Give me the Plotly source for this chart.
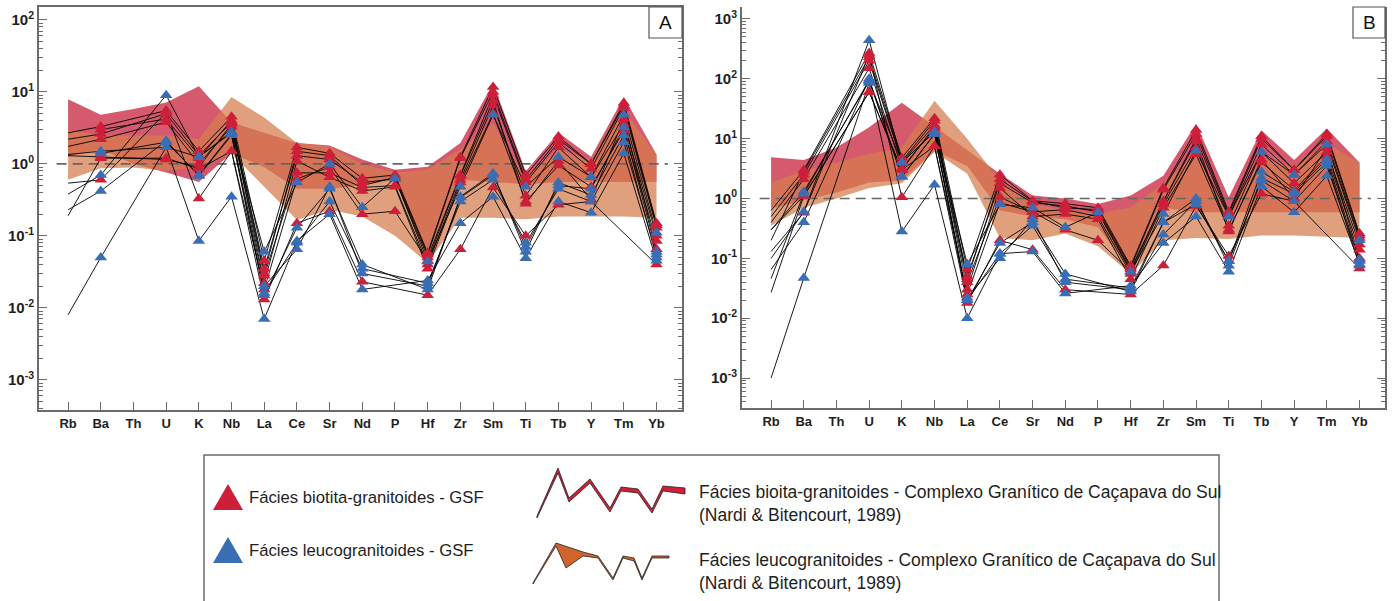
import plotly.graph_objects as go

# ---------------- data ----------------
elements = ["Rb", "Ba", "Th", "U", "K", "Nb", "La", "Ce", "Sr", "Nd", "P",
            "Hf", "Zr", "Sm", "Ti", "Tb", "Y", "Tm", "Yb"]

# Panel A - samples (GSF)
biot_A = {
    "R1": [2.7, 3.3, None, 5.5, 1.5, 4.5, 0.045, 1.7, 1.4, 0.63, 0.70, 0.058, 1.25, 11.7, 0.70, 2.4, 1.0, 7.0, 0.15],
    "R2": [2.2, 2.6, None, 5.0, 1.3, 3.8, 0.035, 1.3, 1.15, 0.55, 0.62, 0.050, 0.70, 9.0, 0.55, 2.0, 0.85, 6.0, 0.13],
    "R3": [1.75, 2.2, None, 3.8, 1.0, 3.3, 0.028, 0.75, 0.75, 0.47, 0.50, 0.040, 0.60, 6.5, 0.36, 1.7, 0.65, 3.6, 0.10],
    "R4": [1.3, 1.25, None, 1.15, 0.9, 3.6, 0.022, 1.1, 0.65, 0.42, 0.48, 0.035, 0.55, 5.0, 0.30, 0.95, 0.48, 2.9, 0.085],
    "R5": [0.54, 0.6, None, 5.2, 0.33, 1.5, 0.018, 0.62, 0.9, 0.20, 0.22, 0.045, 0.68, 7.5, 0.28, 1.1, 0.32, 4.2, 0.065],
    "R6": [None, 3.0, None, 4.2, 1.2, 4.0, 0.030, 1.5, 1.3, 0.50, 0.65, 0.055, 1.2, 10.0, 0.60, 2.2, 1.0, 6.5, 0.14],
    "R7": [0.19, 1.2, None, 1.2, 0.85, 1.5, 0.013, 0.15, 0.22, 0.023, None, 0.015, 0.065, 0.47, 0.10, 0.27, 0.30, None, 0.04],
}
leuco_A = {
    "B1": [0.38, 0.7, None, 9.0, 1.25, 2.8, 0.060, 0.55, 1.0, 0.25, 0.63, 0.044, 0.48, 4.8, 0.48, 1.25, 0.66, 4.8, 0.11],
    "B2": [0.23, 0.42, None, 2.1, 0.68, 2.5, 0.015, 0.13, 0.45, 0.040, None, 0.018, 0.35, 0.74, 0.060, 0.55, 0.37, 2.5, 0.050],
    "B3": [0.008, 0.05, None, 1.7, 0.085, 0.35, 0.007, 0.085, 0.20, 0.018, None, 0.024, 0.15, 0.35, 0.049, 0.30, 0.21, 1.4, 0.045],
    "B4": [1.35, 1.5, None, 1.7, 1.25, 2.7, 0.020, 0.065, 0.48, 0.030, None, 0.020, 0.34, 0.70, 0.070, 0.50, 0.45, 3.2, 0.060],
    "B5": [None, 1.4, None, 2.0, 0.7, 2.6, 0.016, 0.080, 0.30, 0.035, None, 0.022, 0.30, 0.60, 0.080, 0.45, 0.30, 2.0, 0.055],
}

# Panel B - samples (GSF)
biot_B = {
    "R1": [0.63, 3.0, None, 270, 4.8, 22, 0.065, 2.5, 0.92, 0.82, 0.70, 0.075, 1.5, 14, 0.60, 11, 3.0, 12, 0.26],
    "R2": [0.50, 2.5, None, 200, 4.0, 17, 0.050, 1.8, 0.85, 0.75, 0.60, 0.065, 0.9, 10, 0.50, 8.0, 2.5, 9.0, 0.22],
    "R3": [0.40, 2.1, None, 150, 3.2, 15, 0.040, 1.05, 0.60, 0.65, 0.50, 0.055, 0.8, 7.0, 0.35, 6.0, 1.8, 6.0, 0.17],
    "R4": [0.30, 1.1, None, 60, 3.0, 16, 0.030, 1.5, 0.50, 0.55, 0.45, 0.045, 0.7, 5.5, 0.30, 4.0, 1.4, 5.0, 0.14],
    "R5": [0.13, 0.58, None, 250, 1.05, 7.5, 0.025, 0.85, 0.60, 0.30, 0.20, 0.060, 0.9, 9.0, 0.28, 4.5, 1.0, 7.0, 0.10],
    "R6": [0.20, 2.8, None, 230, 4.2, 20, 0.045, 2.1, 0.90, 0.70, 0.65, 0.070, 1.4, 12, 0.55, 10, 3.0, 11, 0.24],
    "R7": [0.027, 1.1, None, 60, 3.0, 7.5, 0.018, 0.20, 0.14, 0.030, None, 0.025, 0.076, 0.75, 0.11, 1.2, 0.9, None, 0.068],
}
leuco_B = {
    "B1": [0.10, 0.60, None, 440, 4.0, 13, 0.080, 0.80, 0.70, 0.33, 0.59, 0.060, 0.55, 6.3, 0.50, 6.0, 2.5, 8.0, 0.20],
    "B2": [0.065, 0.40, None, 100, 2.3, 12, 0.020, 0.18, 0.40, 0.055, None, 0.028, 0.40, 1.0, 0.075, 2.2, 1.2, 4.0, 0.076],
    "B3": [0.001, 0.047, None, 85, 0.28, 1.7, 0.010, 0.12, 0.13, 0.026, None, 0.035, 0.18, 0.50, 0.060, 1.6, 0.59, 2.4, 0.080],
    "B4": [0.30, 1.3, None, 90, 4.0, 13, 0.022, 0.10, 0.45, 0.040, None, 0.030, 0.25, 0.90, 0.090, 2.8, 1.3, 4.5, 0.095],
    "B5": [0.046, 1.2, None, 95, 2.3, 12, 0.020, 0.12, 0.35, 0.045, None, 0.032, 0.40, 0.80, 0.090, 2.0, 0.9, 3.5, 0.090],
}

# Fields of Complexo Granitico de Cacapava do Sul (Nardi & Bitencourt, 1989)
biot_field_A_up = [7.9, 4.8, 5.8, 7.1, 12.0, 3.8, 2.7, 1.95, 1.8, 1.15, 0.83, 0.91, 1.95, 13.2, 0.79, 2.7, 1.26, 8.5, 1.35]
biot_field_A_lo = [1.26, 1.6, 1.0, 0.76, 0.56, 1.4, 0.9, 0.45, 0.45, 0.5, 0.6, 0.051, 0.6, 0.56, 0.52, 0.56, 0.56, 0.56, 0.56]
leuco_field_A_up = [2.95, 2.5, 2.5, 2.5, 2.2, 8.5, 4.4, 1.95, 1.75, 1.0, 0.76, 0.83, 1.6, 3.7, 0.63, 1.6, 1.12, 5.6, 1.35]
leuco_field_A_lo = [0.6, 0.87, 0.89, 0.8, 0.9, 1.4, 0.48, 0.166, 0.23, 0.186, 0.1, 0.042, 0.178, 0.178, 0.17, 0.186, 0.186, 0.186, 0.178]

biot_field_B_up = [4.9, 4.4, 7.1, 15.5, 40, 16, 6.3, 2.6, 1.12, 1.0, 0.81, 1.12, 2.4, 17.8, 1.05, 13.8, 4.4, 14.8, 4.0]
biot_field_B_lo = [0.68, 0.93, 1.26, 1.86, 2.0, 6.3, 3.5, 0.63, 0.5, 0.45, 0.33, 0.063, 0.7, 0.59, 0.59, 0.59, 0.59, 0.59, 0.59]
leuco_field_B_up = [1.86, 2.95, 4.0, 5.6, 7.1, 43, 10, 2.0, 0.81, 0.63, 0.56, 0.71, 1.78, 5.6, 0.56, 4.9, 3.3, 8.3, 4.0]
leuco_field_B_lo = [0.35, 0.7, 1.0, 1.5, 1.8, 6.0, 2.6, 0.22, 0.2, 0.26, 0.16, 0.055, 0.2, 0.22, 0.21, 0.24, 0.24, 0.23, 0.22]

ytick_A = [1e-3, 1e-2, 1e-1, 1e0, 1e1, 1e2]
ytick_A_text = ["10<sup>-3</sup>", "10<sup>-2</sup>", "10<sup>-1</sup>", "10<sup>0</sup>", "10<sup>1</sup>", "10<sup>2</sup>"]
ytick_B = [1e-3, 1e-2, 1e-1, 1e0, 1e1, 1e2, 1e3]
ytick_B_text = ["10<sup>-3</sup>", "10<sup>-2</sup>", "10<sup>-1</sup>", "10<sup>0</sup>", "10<sup>1</sup>", "10<sup>2</sup>", "10<sup>3</sup>"]

legend_texts = [
    "Fácies biotita-granitoides - GSF",
    "Fácies leucogranitoides - GSF",
    "Fácies bioita-granitoides - Complexo Granítico de Caçapava do Sul",
    "Fácies leucogranitoides - Complexo Granítico de Caçapava do Sul",
    "(Nardi & Bitencourt, 1989)",
]

# ---------------- styles ----------------
RED_FIELD = "rgb(213,90,110)"
ORG_FIELD = "rgba(214,125,77,0.73)"
RED_MK = "rgb(205,31,58)"
BLUE_MK = "rgb(57,110,181)"
AXC = "#6b6b6b"
FONT = "Arial, 'Liberation Sans', sans-serif"

W, H = 1392, 601
idx = list(range(len(elements)))

fig = go.Figure()


def add_panel(xa, ya, bf_up, bf_lo, lf_up, lf_lo, biot, leuco):
    fig.add_trace(go.Scatter(x=idx + idx[::-1], y=bf_up + bf_lo[::-1], fill="toself",
                             fillcolor=RED_FIELD, mode="lines", line=dict(width=0),
                             xaxis=xa, yaxis=ya, hoverinfo="skip"))
    fig.add_trace(go.Scatter(x=idx + idx[::-1], y=lf_up + lf_lo[::-1], fill="toself",
                             fillcolor=ORG_FIELD, mode="lines", line=dict(width=0),
                             xaxis=xa, yaxis=ya, hoverinfo="skip"))
    # reference line at 1
    fig.add_trace(go.Scatter(x=[idx[0] - 0.35, idx[-1] + 0.35], y=[1, 1], mode="lines",
                             line=dict(color="#666666", width=1.6, dash="10px,6px"),
                             xaxis=xa, yaxis=ya, hoverinfo="skip"))
    for group in (biot, leuco):
        for vals in group.values():
            fig.add_trace(go.Scatter(x=idx, y=vals, mode="lines", connectgaps=True,
                                     line=dict(color="black", width=0.9),
                                     xaxis=xa, yaxis=ya, hoverinfo="skip"))
    for group, col in ((biot, RED_MK), (leuco, BLUE_MK)):
        xs, ys = [], []
        for vals in group.values():
            for i, v in zip(idx[1:], vals[1:]):
                if v is not None:
                    xs.append(i)
                    ys.append(v)
        fig.add_trace(go.Scatter(x=xs, y=ys, mode="markers",
                                 marker=dict(symbol="triangle-up", size=11, color=col,
                                             line=dict(width=0)),
                                 xaxis=xa, yaxis=ya, hoverinfo="skip"))


add_panel("x", "y", biot_field_A_up, biot_field_A_lo, leuco_field_A_up, leuco_field_A_lo, biot_A, leuco_A)
add_panel("x2", "y2", biot_field_B_up, biot_field_B_lo, leuco_field_B_up, leuco_field_B_lo, biot_B, leuco_B)


def xaxis_cfg(domain, anchor, top_line):
    return dict(domain=domain, anchor=anchor, range=[-0.89, 18.78],
                tickmode="array", tickvals=idx, ticktext=[f"<b>{e}</b>" for e in elements],
                ticks="inside", ticklen=8, tickwidth=1.3, tickcolor=AXC,
                showline=True, linecolor=AXC, linewidth=2, mirror=top_line,
                showgrid=False, zeroline=False,
                tickfont=dict(family=FONT, size=13, color="#1e1e1e"))


def yaxis_cfg(domain, anchor, rng, tv, tt):
    return dict(domain=domain, anchor=anchor, type="log", range=rng,
                tickmode="array", tickvals=tv, ticktext=[f"<b>{t}</b>" for t in tt],
                ticks="inside", ticklen=8, tickwidth=1.3, tickcolor=AXC,
                minor=dict(ticks="inside", ticklen=4, tickwidth=1, tickcolor=AXC, dtick="D1", showgrid=False),
                showline=True, linecolor=AXC, linewidth=2, mirror="ticks",
                showgrid=False, zeroline=False,
                tickfont=dict(family=FONT, size=15, color="#1e1e1e"))


def px(x):
    return x / W


def py(y):
    return 1 - y / H


def path(points):
    return "M " + " L ".join(f"{px(a):.5f},{py(b):.5f}" for a, b in points) + " Z"


shapes = []
annotations = []

# panel letter boxes
for (x0, x1, lab) in ((649, 682, "A"), (1353, 1385, "B")):
    shapes.append(dict(type="rect", xref="paper", yref="paper", x0=px(x0), x1=px(x1), y0=py(38), y1=py(7),
                       line=dict(color="#555555", width=1.2), fillcolor="white", layer="above"))
    annotations.append(dict(xref="paper", yref="paper", x=px((x0 + x1) / 2), y=py(23), text=lab,
                            showarrow=False, xanchor="center", yanchor="middle",
                            font=dict(family=FONT, size=19, color="#111111")))

# legend box
shapes.append(dict(type="rect", xref="paper", yref="paper", x0=px(204), x1=px(1219), y0=-0.05, y1=py(455),
                   line=dict(color="#6b6b6b", width=1.5), fillcolor="white"))
# legend triangles
shapes.append(dict(type="path", xref="paper", yref="paper",
                   path=path([(228, 484), (243, 510), (213, 510)]), fillcolor=RED_MK, line=dict(width=0)))
shapes.append(dict(type="path", xref="paper", yref="paper",
                   path=path([(228, 537), (243, 563), (213, 563)]), fillcolor=BLUE_MK, line=dict(width=0)))
# legend field glyphs
red_up = [(537, 516), (558, 468), (569, 498), (590, 479), (610, 508), (621, 487), (638, 489), (652, 509), (663, 486), (685, 488)]
red_lo = [(685, 494), (663, 491), (652, 513), (638, 493), (621, 491), (610, 512), (590, 483), (569, 502), (558, 473), (537, 518)]
shapes.append(dict(type="path", xref="paper", yref="paper", path=path(red_up + red_lo),
                   fillcolor="rgb(210,30,55)", line=dict(color="#222222", width=0.8)))
org_up = [(533, 583), (556, 543), (583, 552), (598, 556), (613, 578), (623, 556), (634, 558), (642, 578), (652, 556), (669, 556)]
org_lo = [(669, 558), (652, 558), (642, 580), (634, 561), (623, 558), (613, 580), (598, 558), (583, 556), (566, 568), (556, 546), (533, 584)]
shapes.append(dict(type="path", xref="paper", yref="paper", path=path(org_up + org_lo),
                   fillcolor="rgb(208,100,45)", line=dict(color="#222222", width=0.8)))

for (x, y, t, fs) in ((247, 497, legend_texts[0], 16.7), (247, 550, legend_texts[1], 16.7),
                      (697, 492, legend_texts[2], 17.5), (697, 515, legend_texts[4], 17.5),
                      (697, 560, legend_texts[3], 17.5), (697, 583, legend_texts[4], 17.5)):
    annotations.append(dict(xref="paper", yref="paper", x=px(x), y=py(y), text=t, showarrow=False,
                            xanchor="left", yanchor="middle",
                            font=dict(family=FONT, size=fs, color="#1e1e1e")))

fig.update_layout(
    width=W, height=H, margin=dict(l=0, r=0, t=0, b=0),
    paper_bgcolor="white", plot_bgcolor="white", showlegend=False, hovermode=False,
    xaxis=xaxis_cfg([39 / W, 682 / W], "y", True),
    yaxis=yaxis_cfg([py(410), py(7)], "x", [-3.42, 2.18], ytick_A, ytick_A_text),
    xaxis2=xaxis_cfg([742 / W, 1385 / W], "y2", False),
    yaxis2=yaxis_cfg([py(408), py(7)], "x2", [-3.5, 3.2], ytick_B, ytick_B_text),
    shapes=shapes, annotations=annotations,
)

fig.write_html("out.html", config={"displayModeBar": False},
               post_script="document.body.style.margin='0';document.body.style.overflow='hidden';")
